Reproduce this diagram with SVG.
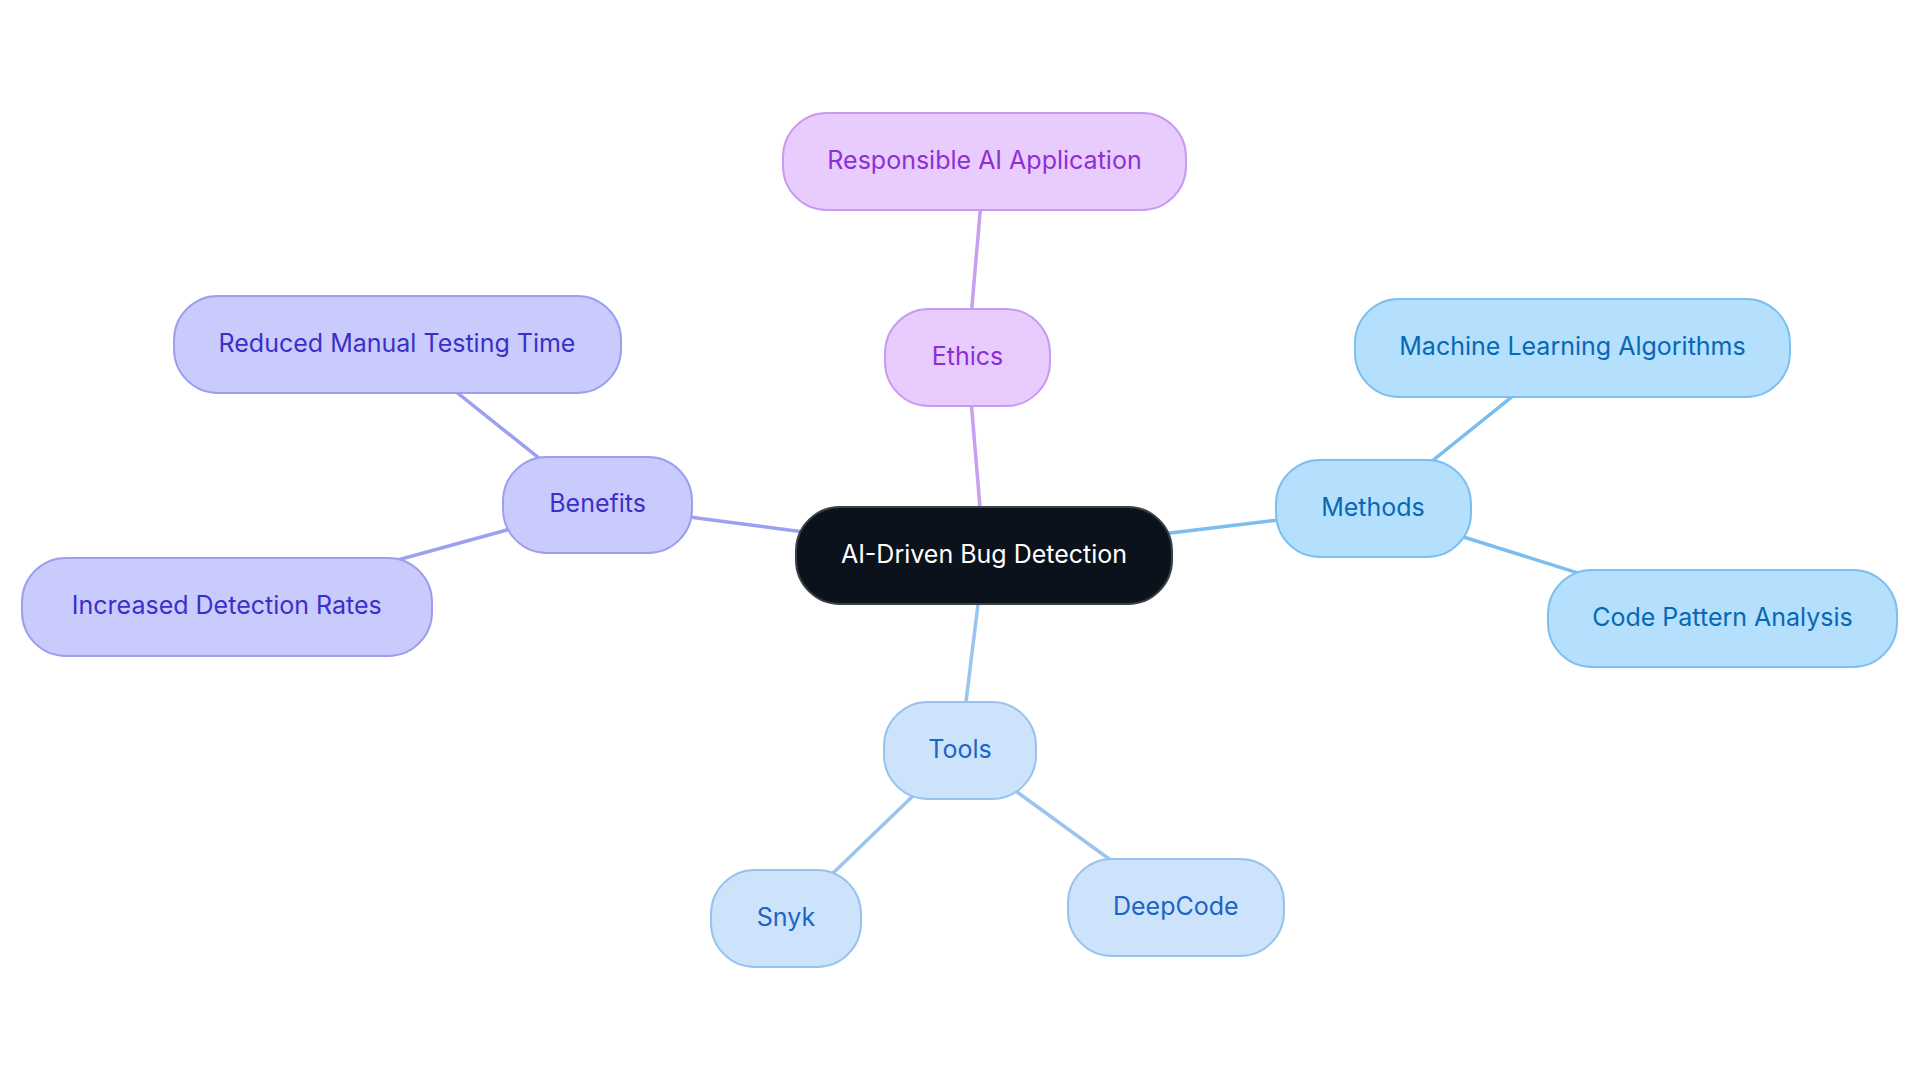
<svg xmlns="http://www.w3.org/2000/svg" width="1920" height="1083" viewBox="0 0 1920 1083">
<style>
text{font-family:Inter,"Noto Sans","Liberation Sans",sans-serif;font-size:25px;text-anchor:middle;dominant-baseline:central}
.edge{stroke-width:3.5;fill:none}
.root rect{fill:#0b121b;stroke:#3b4048;stroke-width:2}
.root text{fill:#ffffff}
.eth rect{fill:#e8ccfd;stroke:#c99af0;stroke-width:2}
.eth text{fill:#8e2fd6}
.met rect{fill:#b4dffd;stroke:#7dc0ef;stroke-width:2}
.met text{fill:#0868b4}
.ben rect{fill:#cacbfd;stroke:#9c9ff0;stroke-width:2}
.ben text{fill:#3a30c8}
.too rect{fill:#cde3fb;stroke:#98c3ee;stroke-width:2}
.too text{fill:#1c64c6}
</style>
<rect width="1920" height="1083" fill="#ffffff"/>
<g id="connectors">
<line class="edge" stroke="#c9a0f1" x1="984" y1="555.5" x2="967.5" y2="357.5"/>
<line class="edge" stroke="#c9a0f1" x1="967.5" y1="357.5" x2="984.5" y2="161.5"/>
<line class="edge" stroke="#7bbdec" x1="984" y1="555.5" x2="1373" y2="508.5"/>
<line class="edge" stroke="#7bbdec" x1="1373" y1="508.5" x2="1572.5" y2="348"/>
<line class="edge" stroke="#7bbdec" x1="1373" y1="508.5" x2="1722.5" y2="618.5"/>
<line class="edge" stroke="#9ca0f0" x1="984" y1="555.5" x2="597.6" y2="505"/>
<line class="edge" stroke="#9ca0f0" x1="597.6" y1="505" x2="397" y2="344.5"/>
<line class="edge" stroke="#9ca0f0" x1="597.6" y1="505" x2="226.8" y2="607"/>
<line class="edge" stroke="#9bc4ee" x1="984" y1="555.5" x2="960" y2="750.5"/>
<line class="edge" stroke="#9bc4ee" x1="960" y1="750.5" x2="786" y2="918.5"/>
<line class="edge" stroke="#9bc4ee" x1="960" y1="750.5" x2="1175.8" y2="907.5"/>
</g>
<g id="root" class="root"><rect x="796" y="507" width="376" height="97" rx="44"/><text x="984" y="553.5">AI-Driven Bug Detection</text></g>
<g id="ethics" class="eth"><rect x="885" y="309" width="165" height="97" rx="44"/><text x="967.5" y="355.5">Ethics</text></g>
<g id="responsible" class="eth"><rect x="783" y="113" width="403" height="97" rx="44"/><text x="984.5" y="159.5">Responsible AI Application</text></g>
<g id="methods" class="met"><rect x="1276" y="460" width="195" height="97" rx="44"/><text x="1373" y="506.5">Methods</text></g>
<g id="ml" class="met"><rect x="1355" y="299" width="435" height="98" rx="44"/><text x="1572.5" y="346">Machine Learning Algorithms</text></g>
<g id="cpa" class="met"><rect x="1548" y="570" width="349" height="97" rx="44"/><text x="1722.5" y="616.5">Code Pattern Analysis</text></g>
<g id="benefits" class="ben"><rect x="503" y="457" width="189" height="96" rx="44"/><text x="597.6" y="503">Benefits</text></g>
<g id="reduced" class="ben"><rect x="174" y="296" width="447" height="97" rx="44"/><text x="397" y="342.5">Reduced Manual Testing Time</text></g>
<g id="increased" class="ben"><rect x="22" y="558" width="410" height="98" rx="44"/><text x="226.8" y="605">Increased Detection Rates</text></g>
<g id="tools" class="too"><rect x="884" y="702" width="152" height="97" rx="44"/><text x="960" y="748.5">Tools</text></g>
<g id="snyk" class="too"><rect x="711" y="870" width="150" height="97" rx="44"/><text x="786" y="916.5">Snyk</text></g>
<g id="deepcode" class="too"><rect x="1068" y="859" width="216" height="97" rx="44"/><text x="1175.8" y="905.5">DeepCode</text></g>
</svg>
